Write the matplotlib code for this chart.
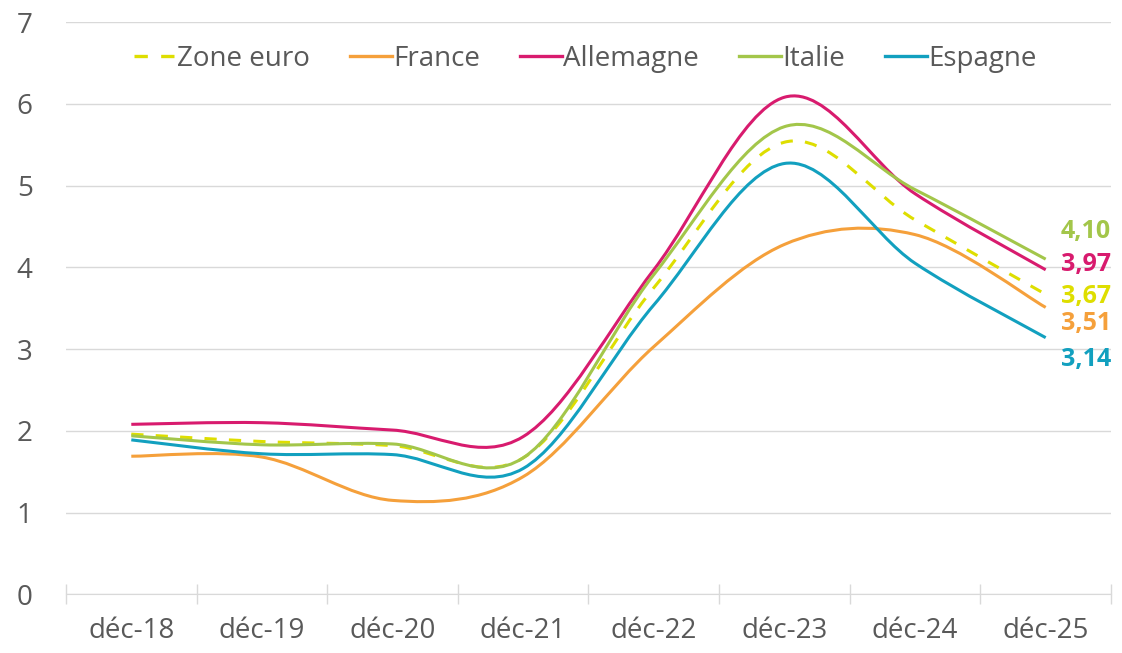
# -*- coding: utf-8 -*-
import numpy as np
import matplotlib
matplotlib.use('Agg')
import matplotlib.pyplot as plt
from matplotlib.path import Path
from matplotlib.patches import PathPatch
from matplotlib.lines import Line2D

plt.rcParams['font.family'] = ['Open Sans', 'DejaVu Sans']

# donnees (taux, %)
mois = ['déc-18', 'déc-19', 'déc-20', 'déc-21', 'déc-22', 'déc-23', 'déc-24', 'déc-25']
zone_euro = [1.96, 1.87, 1.82, 1.67, 3.75, 5.53, 4.58, 3.67]
france = [1.69, 1.68, 1.15, 1.44, 3.03, 4.28, 4.40, 3.51]
allemagne = [2.08, 2.10, 2.01, 1.93, 3.97, 6.08, 4.90, 3.97]
italie = [1.94, 1.83, 1.84, 1.67, 3.91, 5.72, 4.95, 4.10]
espagne = [1.89, 1.72, 1.71, 1.54, 3.54, 5.27, 4.05, 3.14]

series = [
    ('Zone euro', zone_euro, '#DEDE00', (0, (4, 4))),
    ('France', france, '#F5A03B', '-'),
    ('Allemagne', allemagne, '#D81B6E', '-'),
    ('Italie', italie, '#A3C64A', '-'),
    ('Espagne', espagne, '#12A0BF', '-'),
]
# decalage vertical des etiquettes de fin (mise en page)
decal_etiquette = {'Zone euro': -0.03, 'France': -0.20, 'Allemagne': 0.06,
                   'Italie': 0.34, 'Espagne': -0.27}

gris = '#D9D9D9'
texte = '#595959'


def courbe_lissee(x, y):
    # lissage facon Excel : bezier cubiques (Catmull-Rom)
    pts = np.column_stack([x, y]).astype(float)
    ext = np.vstack([pts[0], pts, pts[-1]])
    verts = [pts[0]]
    codes = [Path.MOVETO]
    for i in range(len(pts) - 1):
        p0, p1, p2, p3 = ext[i], ext[i + 1], ext[i + 2], ext[i + 3]
        verts += [p1 + (p2 - p0) / 6, p2 - (p3 - p1) / 6, p2]
        codes += [Path.CURVE4] * 3
    return Path(verts, codes)


fig = plt.figure(figsize=(11.22, 6.53), dpi=100)
ax = fig.add_axes([0.0588, 0.0897, 0.9314, 0.8766])

x = np.arange(len(mois))
poignees = []
for i, (nom, val, coul, style) in enumerate(series):
    patch = PathPatch(courbe_lissee(x, val), facecolor='none', edgecolor=coul,
                      lw=2.2, linestyle=style, capstyle='butt', zorder=3 + i)
    ax.add_patch(patch)
    poignees.append(Line2D([], [], color=coul, lw=2.4, linestyle=style, label=nom))
    ax.text(7.5, val[-1] + decal_etiquette[nom], f'{val[-1]:.2f}'.replace('.', ','),
            ha='right', va='center', color=coul, fontsize=18, fontweight='bold')

ax.set_xlim(-0.5, 7.5)
ax.set_ylim(0, 7)
ax.set_yticks(range(0, 8))
ax.grid(axis='y', color=gris, lw=1)
ax.set_axisbelow(True)

ax.set_xticks(np.arange(-0.5, 8, 1))
ax.set_xticklabels([])
ax.set_xticks(x, minor=True)
ax.set_xticklabels(mois, minor=True)
ax.tick_params(axis='x', which='major', length=14, direction='inout', color=gris, width=1)
ax.tick_params(axis='x', which='minor', length=0, pad=16, labelsize=20, labelcolor=texte)
ax.tick_params(axis='y', length=0, pad=24, labelsize=20, labelcolor=texte)

for s in ['top', 'right', 'left']:
    ax.spines[s].set_visible(False)
ax.spines['bottom'].set_color(gris)

leg = ax.legend(handles=poignees, loc='center', bbox_to_anchor=(0.497, 0.936), ncol=5,
                frameon=False, handlelength=1.5, handletextpad=0.05, columnspacing=1.45,
                fontsize=20)
for t in leg.get_texts():
    t.set_color(texte)

fig.savefig('out.png', dpi=100)
